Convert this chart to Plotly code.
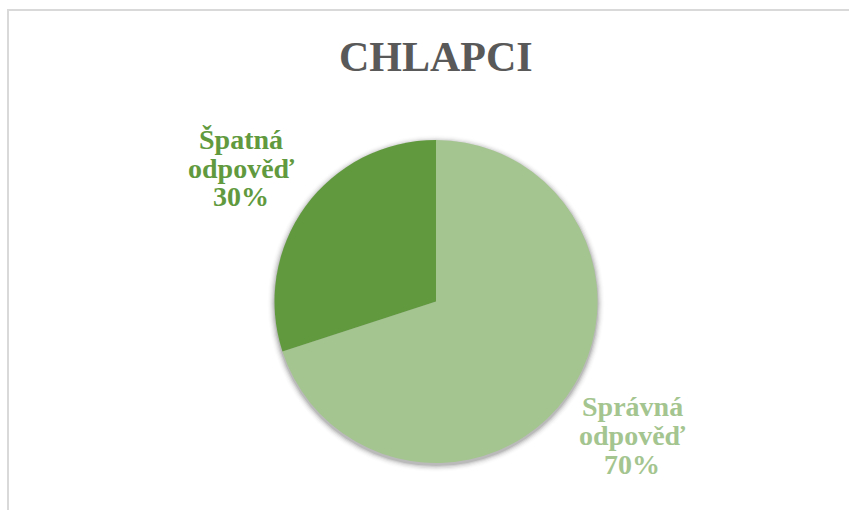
import plotly.graph_objects as go

# Chart data
title_text = "CHLAPCI"
labels = ["Správná odpověď", "Špatná odpověď"]
values = [70, 30]
colors = ["#A4C58F", "#619A3E"]

W, H = 849, 510

def px_x(x):
    return x / W

def px_y(y):
    return (H - y) / H

# pie geometry (pixels)
cx, cy, r = 436, 301.5, 161.5

fig = go.Figure()
fig.add_trace(go.Pie(
    labels=labels,
    values=values,
    sort=False,
    direction="clockwise",
    rotation=0,
    marker=dict(colors=colors, line=dict(width=0)),
    textinfo="none",
    hoverinfo="label+percent",
    showlegend=False,
    domain=dict(x=[px_x(cx - r), px_x(cx + r)], y=[px_y(cy + r), px_y(cy - r)]),
))

# soft shadow around the pie
shapes = []
for i, op in enumerate([0.10, 0.07, 0.05, 0.035, 0.02, 0.01]):
    rr = r + 1 + i * 1.2
    oy = 2.0
    shapes.append(dict(
        type="circle", xref="paper", yref="paper", layer="below",
        x0=px_x(cx - rr), x1=px_x(cx + rr),
        y0=px_y(cy + oy + rr), y1=px_y(cy + oy - rr),
        fillcolor=f"rgba(0,0,0,{op})", line=dict(width=0),
    ))

# chart area border
shapes.append(dict(
    type="rect", xref="paper", yref="paper", layer="below",
    x0=px_x(8), x1=px_x(W + 20), y0=px_y(H + 20), y1=px_y(10),
    line=dict(color="#D9D9D9", width=2), fillcolor="rgba(0,0,0,0)",
))

# data label anchors (pixel centers of first line) and line spacing
label_pos = {labels[0]: (632, 406), labels[1]: (241, 139)}
line_gap = 29

serif = "Liberation Serif, Times New Roman, serif"

total = sum(values)
annotations = []
for lab, val, col in zip(labels, values, colors):
    x0, y0 = label_pos[lab]
    lines = lab.split(" ") + [f"{round(val / total * 100)}%"]
    for k, line in enumerate(lines):
        annotations.append(dict(
            text=f"<b>{line}</b>", x=px_x(x0), y=px_y(y0 + k * line_gap),
            xref="paper", yref="paper", xanchor="center", yanchor="middle",
            showarrow=False,
            font=dict(family=serif, size=28, color=col),
        ))

annotations.append(dict(
    text=f"<b>{title_text}</b>", x=px_x(436), y=px_y(57),
    xref="paper", yref="paper", xanchor="center", yanchor="middle",
    showarrow=False,
    font=dict(family=serif, size=42, color="#595959"),
))

fig.update_layout(
    width=W, height=H,
    margin=dict(l=0, r=0, t=0, b=0),
    paper_bgcolor="white",
    plot_bgcolor="white",
    shapes=shapes,
    annotations=annotations,
)

fig.write_html("out.html")
